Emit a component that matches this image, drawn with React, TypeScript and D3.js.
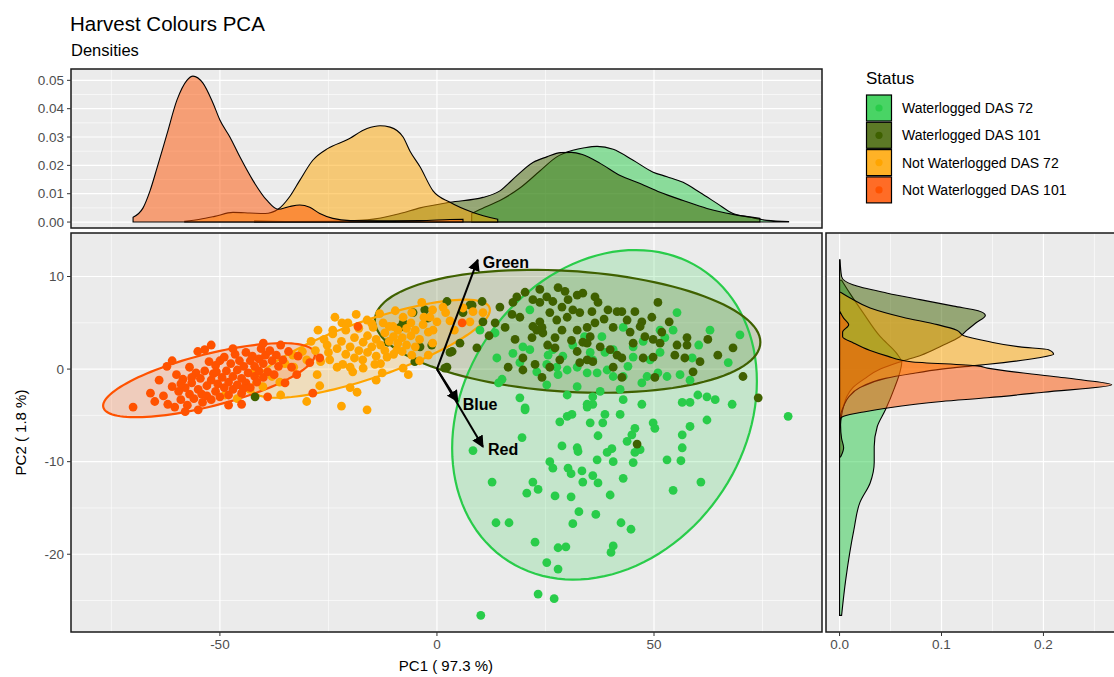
import React from "react";
import * as d3 from "d3";

// groups in factor order (draw order)
const groups = ["Waterlogged DAS 72", "Waterlogged DAS 101", "Not Waterlogged DAS 72", "Not Waterlogged DAS 101"];
const colors = ["#29cc4a", "#3f6100", "#ffa500", "#ff5200"];

// PCA scores (PC1, PC2)
const ptsWL72: number[][] = [
  [55.3, 6.1], [62.9, 4.2], [69.8, 3.7], [67.1, 0.7], [58.8, 1.2], [54.4, 4.2], [51.4, 4.2], [52.5, 3.4], [51.4, 1.8], [49.1, 1.0],
  [45.2, 2.4], [42.9, 4.5], [38.0, 3.5], [38.7, 1.8], [40.6, 2.1], [35.3, 1.8], [31.3, 2.6], [26.7, 2.1], [25.6, 1.5], [21.4, 2.1],
  [19.8, 2.4], [19.1, 0.7], [13.8, 1.2], [15.0, -1.1], [9.9, 4.2], [13.4, 3.9], [21.4, 6.4], [25.3, 0.5], [27.6, 0.2], [27.9, -0.6],
  [25.3, -1.7], [30.0, -0.1], [32.3, 0.2], [34.6, -0.4], [36.9, -0.4], [39.2, -0.1], [40.6, -0.8], [35.9, 1.0], [32.3, -1.9], [30.0, -2.8],
  [35.9, -3.0], [37.6, -2.4], [42.2, -2.2], [42.9, -0.8], [45.2, 1.3], [47.2, -1.5], [48.4, -0.8], [50.9, -0.4], [53.0, -0.8], [56.0, -0.6],
  [58.3, -1.2], [58.3, -3.6], [60.1, -2.8], [62.2, -3.0], [64.1, -3.3], [56.5, -3.6], [68.0, -3.8], [80.9, -5.1], [47.2, -3.8], [42.9, -3.3],
  [38.7, -4.9], [42.2, -4.9], [34.6, -3.8], [35.9, -3.8], [30.0, -5.1], [28.3, -5.7], [19.1, -3.1], [20.3, -4.2], [31.1, -4.9], [35.3, -5.8],
  [38.2, -5.8], [49.8, -5.8], [50.2, -6.4], [56.5, -7.1], [58.3, -6.2], [62.2, -5.5], [8.3, -8.8], [19.6, -7.4], [28.8, -8.3], [32.3, -8.5],
  [32.5, -8.9], [37.1, -7.2], [39.2, -9.0], [40.3, -8.6], [43.8, -7.8], [44.9, -7.1], [45.6, -6.4], [45.6, -9.0], [46.8, -8.7], [45.2, -10.1],
  [36.9, -9.8], [40.6, -10.0], [53.0, -9.8], [56.5, -8.5], [56.2, -9.9], [26.0, -10.0], [26.7, -10.7], [30.2, -10.7], [30.9, -11.3], [33.4, -11.0],
  [35.9, -11.5], [37.1, -12.3], [33.6, -12.2], [42.9, -11.8], [39.9, -13.6], [30.9, -13.8], [27.2, -13.7], [22.1, -12.2], [23.3, -13.0], [20.7, -13.4],
  [12.7, -12.2], [13.6, -16.6], [16.6, -16.6], [32.7, -15.4], [36.6, -15.7], [31.3, -16.7], [42.4, -16.6], [44.7, -17.3], [22.6, -18.7], [27.9, -19.3],
  [29.7, -19.2], [40.6, -19.1], [40.1, -19.8], [25.3, -20.9], [27.9, -21.6], [54.4, -13.1], [60.8, -12.2], [23.3, -24.3], [27.0, -24.8], [10.1, -26.6],
  [17.5, 1.7], [23.0, -0.3], [29.0, 1.4], [44.0, 0.3], [47.5, 3.0], [34.0, 3.5], [14.2, -1.5], [60.3, 2.6], [20.3, -4.4], [34.6, -4.1],
];

const ptsWL101: number[][] = [
  [20.3, 8.3], [18.4, 7.8], [17.5, 7.2], [14.5, 6.7], [13.4, 5.0], [15.7, 4.5], [17.3, 5.9], [19.1, 5.6], [22.1, 7.5], [23.7, 7.2],
  [25.3, 7.8], [27.9, 8.8], [26.7, 7.3], [28.8, 6.7], [30.2, 7.5], [32.3, 8.0], [33.6, 8.2], [36.4, 7.8], [37.1, 7.2], [35.7, 6.2],
  [32.9, 6.1], [31.3, 6.4], [30.0, 5.6], [27.6, 5.3], [26.0, 6.1], [23.7, 5.1], [23.0, 4.2], [24.4, 3.9], [27.2, 3.4], [28.8, 4.2],
  [32.3, 4.2], [34.6, 4.5], [36.4, 5.0], [35.3, 3.5], [33.6, 2.9], [37.6, 2.4], [39.9, 2.1], [41.5, 1.5], [42.6, 1.2], [40.6, 4.5],
  [39.4, 6.4], [41.5, 6.2], [42.6, 6.2], [43.8, 5.3], [45.6, 6.2], [47.2, 5.1], [49.5, 5.6], [46.8, 4.6], [50.9, 7.2], [47.9, 3.5],
  [49.8, 3.2], [51.8, 4.0], [51.4, 2.8], [45.2, 2.8], [47.5, 1.2], [49.8, 1.3], [55.3, 2.6], [57.6, 3.4], [57.6, 2.6], [57.1, 1.2],
  [54.8, 1.5], [60.6, 0.8], [59.0, -0.3], [62.4, 3.2], [64.7, 1.5], [68.2, 2.3], [70.5, -0.8], [74.0, -3.1], [42.6, -0.9], [50.2, -0.9],
  [40.6, 0.2], [34.6, 2.8], [35.9, 0.8], [32.3, 1.9], [28.3, 1.0], [26.0, 0.2], [24.2, -0.9], [22.6, 0.5], [19.8, 1.2], [19.8, -0.1],
  [16.4, 0.2], [18.0, 3.2], [21.9, 3.4], [22.1, 4.6], [24.2, 4.5], [27.2, 2.3], [34.6, 1.0], [32.9, 0.7], [10.4, 7.3], [7.6, 6.9],
  [6.0, 6.1], [5.3, 2.8], [3.0, 1.8], [9.2, 2.3], [2.3, 0.2], [10.6, 5.1], [-5.5, 6.1], [-7.8, 5.0], [-8.5, 4.5], [-11.3, 2.9],
  [-5.1, 0.8], [-3.9, 2.4], [-1.2, 2.6], [2.3, 7.3], [1.8, 0.1], [3.5, 1.9], [8.1, 6.9], [-41.9, -3.0], [-2.1, 5.5], [-2.8, 6.4],
  [-8.1, 4.6], [46.1, -8.1], [23.7, 8.6], [29.5, 8.4], [38.5, 5.4], [44.5, 4.0], [31.0, 3.1], [25.5, 2.6], [53.5, 5.1], [12.0, 3.6],
];

const ptsNWL72: number[][] = [
  [-27.4, 4.2], [-25.3, 2.6], [-24.0, 4.2], [-21.9, 5.0], [-20.5, 5.0], [-16.1, 5.3], [-14.7, 4.5], [-12.4, 5.0], [-10.1, 4.6], [-7.8, 5.6],
  [-5.8, 6.1], [-3.5, 7.2], [-1.6, 5.6], [1.4, 6.7], [-0.9, 4.2], [-3.2, 4.8], [-24.7, 1.0], [-21.7, 0.5], [-19.4, -0.3], [-17.1, 1.0],
  [-14.3, 0.5], [-11.5, 1.3], [-9.2, 2.1], [-7.8, 0.1], [-5.8, 1.5], [-36.2, -1.4], [-33.2, 1.5], [-30.0, 1.0], [-27.6, -0.6], [-18.4, -2.5],
  [-30.0, -3.5], [-16.1, -4.4], [-43.1, -2.2], [-40.1, -1.9], [6.0, 6.6], [8.3, 6.2], [10.6, 6.1], [7.6, 5.1], [-42.4, -0.4], [-48.8, -2.8],
  [-46.0, -3.2], [-26.0, 3.2], [-25.0, 1.8], [-24.0, 3.8], [-23.0, 2.2], [-23.0, 0.2], [-22.0, 3.0], [-21.0, 1.6], [-21.0, 4.2], [-20.0, 2.4],
  [-20.0, 0.2], [-19.0, 3.4], [-19.0, 1.2], [-18.0, 2.0], [-18.0, 4.4], [-17.0, 2.9], [-17.0, 0.1], [-16.0, 1.8], [-16.0, 3.6], [-15.0, 2.4],
  [-15.0, 4.9], [-14.0, 1.4], [-14.0, 3.2], [-13.0, 2.6], [-13.0, 0.6], [-12.0, 3.9], [-12.0, 2.0], [-11.0, 3.0], [-11.0, 4.6], [-10.0, 1.6],
  [-10.0, 3.5], [-9.0, 2.8], [-9.0, 4.2], [-8.0, 3.4], [-8.0, 1.9], [-7.0, 4.4], [-7.0, 2.6], [-6.0, 3.6], [-6.0, 5.0], [-5.0, 2.4],
  [-5.0, 4.2], [-4.0, 3.2], [-3.0, 5.6], [-2.0, 4.0], [-1.0, 2.8], [0.0, 5.1], [-28.0, 2.0], [-29.0, 3.0], [-31.0, 1.9], [-33.0, 0.2],
  [-35.0, 0.6], [-38.0, -0.8], [-27.0, -1.8], [-36.0, -2.8], [-20.0, -2.0], [-14.0, -1.2], [-22.0, -4.0], [-4.0, 0.9], [-2.0, 1.5], [3.0, 5.2],
  [4.0, 4.2], [-1.0, 6.4], [2.0, 6.1], [-23.5, 5.6], [-18.6, 5.9], [-13.2, 6.0], [-9.6, 6.3], [-26.8, 0.8], [-12.6, -0.4], [-6.6, -0.6],
];

const ptsNWL101: number[][] = [
  [-70.0, -4.1], [-66.0, -2.6], [-65.0, -3.5], [-64.0, -1.2], [-63.0, -2.9], [-62.2, 0.3], [-62.0, -3.8], [-61.0, -1.9], [-60.4, -4.1], [-60.0, -0.6],
  [-59.5, -2.4], [-59.0, -3.3], [-58.5, -1.1], [-58.0, -2.0], [-57.5, -3.9], [-57.0, 0.2], [-57.0, -2.7], [-56.5, -1.5], [-56.0, -3.2], [-55.5, -0.4],
  [-55.1, 1.9], [-55.0, -2.2], [-54.5, -1.0], [-54.0, -3.6], [-53.5, 2.1], [-53.5, -0.2], [-53.0, -1.8], [-53.0, -2.9], [-52.5, 0.8], [-52.0, -1.2],
  [-52.0, -3.3], [-51.5, -0.5], [-51.0, -2.4], [-51.0, 0.4], [-50.5, -1.6], [-50.0, -3.0], [-50.0, 0.9], [-49.5, -0.9], [-49.0, -2.0], [-49.0, 1.3],
  [-48.5, -0.2], [-48.0, -1.4], [-48.0, -2.8], [-47.5, 0.6], [-47.0, -0.8], [-47.0, -2.2], [-46.5, 1.6], [-46.0, -0.1], [-46.0, -1.7], [-45.5, 0.9],
  [-45.0, -1.0], [-45.0, -2.6], [-44.5, 0.3], [-44.0, 1.8], [-44.0, -1.5], [-43.5, -0.4], [-43.0, 0.9], [-43.0, -2.0], [-42.5, 1.4], [-42.0, -0.8],
  [-42.0, 0.3], [-41.5, -1.4], [-41.0, 1.1], [-41.0, -0.2], [-40.5, 2.2], [-40.0, 0.6], [-40.0, -0.9], [-39.5, 1.5], [-39.0, -0.3], [-38.5, 2.0],
  [-38.0, 0.9], [-37.5, -0.6], [-37.0, 1.5], [-36.5, 0.3], [-36.0, 2.6], [-35.5, 1.0], [-45.0, -3.8], [-55.0, -4.4], [-58.0, -4.6], [-48.0, -3.9],
  [-61.0, 0.9], [-52.0, 2.6], [-47.0, 2.2], [-39.0, -3.0], [-35.0, -1.5], [-32.0, 1.4], [-29.3, 0.7], [-27.0, 1.2], [-32.3, -0.6], [-28.6, -2.6],
  [-18.2, 4.6], [5.8, 5.0], [-33.5, 0.2], [-40.0, 2.8], [-34.2, 1.9], [-56.5, -0.9], [-59.0, -1.6], [-44.6, -2.1], [-50.8, -0.3], [-54.2, -2.7],
];

const points = [ptsWL72, ptsWL101, ptsNWL72, ptsNWL101];

// normal-confidence ellipses: centre, half-extents and correlation (data units)
const ellCx = [38.6, 30.1, -15.2, -52.5];
const ellCy = [-4.94, 4.08, 2.2, -1.2];
const ellSx = [35.1, 44.4, 27.4, 24.4];
const ellSy = [17.8, 6.64, 5.3, 4.0];
const ellR = [0.203, -0.177, 0.79, 0.69];

// marginal densities of PC1: [PC1, density]
const topWL72: number[][] = [
  [8, 0.003], [11, 0.0052], [14.5, 0.0076], [19.1, 0.012], [23.7, 0.018], [27.6, 0.023], [31.3, 0.0253], [34, 0.0262], [36.9, 0.0267],
  [40.6, 0.0257], [45.2, 0.0218], [49.8, 0.0176], [53.0, 0.016], [56.7, 0.014], [60.6, 0.0104], [64.5, 0.0066], [68.2, 0.003],
  [72.1, 0.0017], [76, 0.0006], [81, 0.0002],
];
const topWL101: number[][] = [
  [-42, 0.0004], [-35, 0.0002], [-25, 0.0003], [-16, 0.0008], [-8.5, 0.003], [-3.9, 0.005], [3.0, 0.007], [10.6, 0.0087],
  [14.5, 0.011], [18.4, 0.0164], [22.1, 0.021], [25.3, 0.023], [28.5, 0.0245], [31, 0.0246], [33.5, 0.0238], [37.6, 0.0207],
  [42.2, 0.0164], [46.8, 0.0136], [51.4, 0.0105], [56.7, 0.0076], [62.2, 0.0048], [68.2, 0.0027], [74.4, 0.0013],
];
const topNWL72: number[][] = [
  [-58.1, 0.0003], [-54.6, 0.001], [-51.2, 0.002], [-47.0, 0.0034], [-43.1, 0.0032], [-39.6, 0.003], [-36.6, 0.0045],
  [-33.9, 0.009], [-31.6, 0.0147], [-28.6, 0.0218], [-25.1, 0.026], [-20.7, 0.029], [-16.1, 0.033], [-13.1, 0.034],
  [-10.8, 0.0335], [-7.8, 0.030], [-6.2, 0.025], [-3.9, 0.0195], [-0.9, 0.011], [3.0, 0.007], [8.3, 0.0034], [14, 0.001],
];
const topNWL101: number[][] = [
  [-70.0, 0.0017], [-67.7, 0.005], [-66.1, 0.011], [-64.5, 0.019], [-62.2, 0.031], [-59.9, 0.043], [-57.6, 0.050], [-56.2, 0.0515],
  [-53.9, 0.049], [-51.6, 0.042], [-50.0, 0.036], [-47.7, 0.030], [-45.4, 0.023], [-42.4, 0.0147], [-39.2, 0.0077], [-36.6, 0.0045],
  [-33.9, 0.0055], [-31.6, 0.006], [-29.3, 0.0052], [-27.0, 0.003], [-24.0, 0.0013], [-20.0, 0.0005], [-13.1, 0.0004], [-3.9, 0.0005],
  [3.0, 0.0009], [6.0, 0.001],
];
const topDens = [topWL72, topWL101, topNWL72, topNWL101];

// marginal densities of PC2: [PC2, density]
const sideWL72: number[][] = [
  [-26.6, 0.002], [-22.8, 0.006], [-17.4, 0.014], [-14.4, 0.02], [-12.3, 0.03], [-10.1, 0.034], [-8.4, 0.034], [-6.2, 0.037],
  [-4.4, 0.045], [-2, 0.054], [-0.4, 0.059], [0.7, 0.061], [1.7, 0.056], [3.5, 0.04], [6.1, 0.023], [8.2, 0.01], [9.6, 0.002],
];
const sideWL101: number[][] = [
  [-9.5, 0.001], [-8.5, 0.004], [-7.5, 0.002], [-6, 0.001], [-5, 0.002], [-4, 0.004], [-3, 0.007], [-2, 0.013], [-1, 0.025],
  [0, 0.04], [0.8, 0.06], [1.5, 0.08], [2.5, 0.1], [3.5, 0.118], [4.2, 0.125], [5.0, 0.134], [5.8, 0.143], [6.3, 0.136],
  [6.8, 0.112], [7.5, 0.079], [8.2, 0.047], [9.1, 0.013], [10, 0.002], [11.8, 0.0005],
];
const sideNWL72: number[][] = [
  [-6, 0.0005], [-5, 0.001], [-4, 0.004], [-3, 0.009], [-2, 0.02], [-1, 0.045], [-0.5, 0.07], [0, 0.1], [0.4, 0.135],
  [0.7, 0.161], [1.2, 0.194], [1.6, 0.21], [2.1, 0.205], [2.4, 0.177], [3.0, 0.145], [3.6, 0.122], [4.2, 0.115], [4.8, 0.096],
  [5.6, 0.062], [6.6, 0.03], [7.7, 0.01], [8.3, 0.001],
];
const sideNWL101: number[][] = [
  [-5.3, 0.001], [-5.1, 0.004], [-4.6, 0.025], [-4.2, 0.047], [-3.5, 0.1], [-3.1, 0.145], [-2.5, 0.2], [-1.7, 0.267],
  [-1.2, 0.24], [-0.8, 0.21], [0.1, 0.145], [0.35, 0.135], [0.8, 0.07], [1.4, 0.047], [2, 0.03], [2.8, 0.014], [3.5, 0.003],
  [4.0, 0.003], [4.8, 0.009], [5.5, 0.004], [6.2, 0.0005],
];
const sideDens = [sideWL72, sideWL101, sideNWL72, sideNWL101];

// variable loadings (arrows)
const loadNames = ["Green", "Blue", "Red"];
const loadX = [9.4, 4.8, 10.6];
const loadY = [11.8, -3.5, -8.4];

const xBreaks = [-50, 0, 50];
const xMinor = [-75, -25, 25, 75];
const yBreaks = [-20, -10, 0, 10];
const yMinor = [-25, -15, -5, 5];
const topBreaks = [0, 0.01, 0.02, 0.03, 0.04, 0.05];
const topMinor = [0.005, 0.015, 0.025, 0.035, 0.045];
const sideBreaks = [0, 0.1, 0.2];
const sideMinor = [0.05, 0.15, 0.25];

const FONT = "'Liberation Sans', Arial, sans-serif";

const main = { l: 71, r: 822, t: 233, b: 632 };
const topP = { l: 71, r: 822, t: 69, b: 228 };
const side = { l: 826, r: 1130, t: 233, b: 632 };

const x = d3.scaleLinear().domain([-84.3, 88.7]).range([main.l, main.r]);
const y = d3.scaleLinear().domain([-28.4, 14.7]).range([main.b, main.t]);
const yTop = d3.scaleLinear().domain([-0.0021, 0.054]).range([topP.b, topP.t]);
const xSide = d3.scaleLinear().domain([-0.0133, 0.28]).range([side.l, side.l + 299]);

function ellipsePath(i: number) {
  const n = 120;
  const pts: [number, number][] = d3.range(n).map((k) => {
    const t = (k / n) * Math.PI * 2;
    const dx = ellSx[i] * Math.cos(t);
    const dy = ellSy[i] * (ellR[i] * Math.cos(t) + Math.sqrt(1 - ellR[i] * ellR[i]) * Math.sin(t));
    return [x(ellCx[i] + dx), y(ellCy[i] + dy)];
  });
  return d3.line().curve(d3.curveLinearClosed)(pts) || "";
}

const topArea = d3.area<number[]>()
  .x((d) => x(d[0]))
  .y0(yTop(0))
  .y1((d) => yTop(d[1]))
  .curve(d3.curveMonotoneX);

const sideArea = d3.area<number[]>()
  .y((d) => y(d[0]))
  .x0(xSide(0))
  .x1((d) => xSide(d[1]))
  .curve(d3.curveMonotoneY);

const gridMajor = { stroke: "#ffffff", strokeWidth: 1.2 };
const gridMinor = { stroke: "#ffffff", strokeWidth: 0.6 };
const tickCol = "#4d4d4d";

export default function App() {
  return (
    <svg width={1114} height={677} style={{ position: "absolute", left: 0, top: 0, background: "#fff" }} fontFamily={FONT}>
      <defs>
        <clipPath id="clipMain"><rect x={main.l} y={main.t} width={main.r - main.l} height={main.b - main.t} /></clipPath>
        <clipPath id="clipTop"><rect x={topP.l} y={topP.t} width={topP.r - topP.l} height={topP.b - topP.t} /></clipPath>
        <clipPath id="clipSide"><rect x={side.l} y={side.t} width={side.r - side.l} height={side.b - side.t} /></clipPath>
        <marker id="arrow" viewBox="0 0 10 10" refX="9" refY="5" markerWidth="6" markerHeight="6" orient="auto" markerUnits="strokeWidth">
          <path d="M0,0 L10,5 L0,10 Z" fill="#000" />
        </marker>
      </defs>

      {/* titles */}
      <text x={70} y={31} fontSize={20.5} fill="#000">Harvest Colours PCA</text>
      <text x={71} y={56} fontSize={16.5} fill="#000">Densities</text>

      {/* ---------- top density panel ---------- */}
      <rect x={topP.l} y={topP.t} width={topP.r - topP.l} height={topP.b - topP.t} fill="#ebebeb" />
      {topMinor.map((v) => <line key={"tm" + v} x1={topP.l} x2={topP.r} y1={yTop(v)} y2={yTop(v)} {...gridMinor} />)}
      {xMinor.map((v) => <line key={"txm" + v} x1={x(v)} x2={x(v)} y1={topP.t} y2={topP.b} {...gridMinor} />)}
      {topBreaks.map((v) => <line key={"tb" + v} x1={topP.l} x2={topP.r} y1={yTop(v)} y2={yTop(v)} {...gridMajor} />)}
      {xBreaks.map((v) => <line key={"txb" + v} x1={x(v)} x2={x(v)} y1={topP.t} y2={topP.b} {...gridMajor} />)}
      <g clipPath="url(#clipTop)">
        {topDens.map((d, i) => (
          <path key={"td" + i} d={topArea(d) || ""} fill={colors[i]} fillOpacity={0.5} stroke="#000" strokeWidth={1.1} />
        ))}
      </g>
      <rect x={topP.l} y={topP.t} width={topP.r - topP.l} height={topP.b - topP.t} fill="none" stroke="#1a1a1a" strokeWidth={1.5} />
      {topBreaks.map((v) => (
        <g key={"tt" + v}>
          <line x1={topP.l - 4} x2={topP.l} y1={yTop(v)} y2={yTop(v)} stroke="#333" />
          <text x={topP.l - 7} y={yTop(v)} dy="0.35em" textAnchor="end" fontSize={13.5} fill={tickCol}>{v.toFixed(2)}</text>
        </g>
      ))}

      {/* ---------- main PCA panel ---------- */}
      <rect x={main.l} y={main.t} width={main.r - main.l} height={main.b - main.t} fill="#ebebeb" />
      {yMinor.map((v) => <line key={"ym" + v} x1={main.l} x2={main.r} y1={y(v)} y2={y(v)} {...gridMinor} />)}
      {xMinor.map((v) => <line key={"xm" + v} x1={x(v)} x2={x(v)} y1={main.t} y2={main.b} {...gridMinor} />)}
      {yBreaks.map((v) => <line key={"yb" + v} x1={main.l} x2={main.r} y1={y(v)} y2={y(v)} {...gridMajor} />)}
      {xBreaks.map((v) => <line key={"xb" + v} x1={x(v)} x2={x(v)} y1={main.t} y2={main.b} {...gridMajor} />)}
      <g clipPath="url(#clipMain)">
        {groups.map((g, i) => (
          <path key={"ef" + g} d={ellipsePath(i)} fill={colors[i]} fillOpacity={0.2} stroke="none" />
        ))}
        {groups.map((g, i) => (
          <path key={"el" + g} d={ellipsePath(i)} fill="none" stroke={colors[i]} strokeWidth={2.2} />
        ))}
        {points.map((pts, i) =>
          pts.map((p, k) => <circle key={"p" + i + "-" + k} cx={x(p[0])} cy={y(p[1])} r={4.4} fill={colors[i]} />)
        )}
        {loadNames.map((n, i) => (
          <g key={"ld" + n}>
            <line x1={x(0)} y1={y(0)} x2={x(loadX[i])} y2={y(loadY[i])} stroke="#000" strokeWidth={2} markerEnd="url(#arrow)" />
            <text x={x(loadX[i]) + 5} y={y(loadY[i]) + 3} dy="0.35em" fontSize={16} fontWeight="bold" fill="#000">{n}</text>
          </g>
        ))}
      </g>
      <rect x={main.l} y={main.t} width={main.r - main.l} height={main.b - main.t} fill="none" stroke="#1a1a1a" strokeWidth={1.5} />
      {yBreaks.map((v) => (
        <g key={"yt" + v}>
          <line x1={main.l - 4} x2={main.l} y1={y(v)} y2={y(v)} stroke="#333" />
          <text x={main.l - 7} y={y(v)} dy="0.35em" textAnchor="end" fontSize={13.5} fill={tickCol}>{v}</text>
        </g>
      ))}
      {xBreaks.map((v) => (
        <g key={"xt" + v}>
          <line x1={x(v)} x2={x(v)} y1={main.b} y2={main.b + 4} stroke="#333" />
          <text x={x(v)} y={main.b + 17} textAnchor="middle" fontSize={13.5} fill={tickCol}>{v}</text>
        </g>
      ))}
      <text x={x(0) + 9} y={671} textAnchor="middle" fontSize={15} fill="#000">PC1 ( 97.3 %)</text>
      <text transform={`translate(26,${(main.t + main.b) / 2}) rotate(-90)`} textAnchor="middle" fontSize={15} fill="#000">PC2 ( 1.8 %)</text>

      {/* ---------- right density panel ---------- */}
      <rect x={side.l} y={side.t} width={side.r - side.l} height={side.b - side.t} fill="#ebebeb" />
      {yMinor.map((v) => <line key={"sym" + v} x1={side.l} x2={side.r} y1={y(v)} y2={y(v)} {...gridMinor} />)}
      {sideMinor.map((v) => <line key={"sxm" + v} x1={xSide(v)} x2={xSide(v)} y1={side.t} y2={side.b} {...gridMinor} />)}
      {yBreaks.map((v) => <line key={"syb" + v} x1={side.l} x2={side.r} y1={y(v)} y2={y(v)} {...gridMajor} />)}
      {sideBreaks.map((v) => <line key={"sxb" + v} x1={xSide(v)} x2={xSide(v)} y1={side.t} y2={side.b} {...gridMajor} />)}
      <g clipPath="url(#clipSide)">
        {sideDens.map((d, i) => (
          <path key={"sd" + i} d={sideArea(d) || ""} fill={colors[i]} fillOpacity={0.5} stroke="#000" strokeWidth={1.1} />
        ))}
      </g>
      <rect x={side.l} y={side.t} width={side.r - side.l} height={side.b - side.t} fill="none" stroke="#1a1a1a" strokeWidth={1.5} />
      {sideBreaks.map((v) => (
        <g key={"st" + v}>
          <line x1={xSide(v)} x2={xSide(v)} y1={side.b} y2={side.b + 4} stroke="#333" />
          <text x={xSide(v)} y={side.b + 17} textAnchor="middle" fontSize={13.5} fill={tickCol}>{v.toFixed(1)}</text>
        </g>
      ))}

      {/* ---------- legend ---------- */}
      <text x={866} y={84} fontSize={17} fill="#000">Status</text>
      {groups.map((g, i) => {
        const ky = 95 + i * 27.3;
        return (
          <g key={"lg" + g}>
            <rect x={866.5} y={ky} width={25} height={26} fill={colors[i]} fillOpacity={0.85} stroke="#000" strokeWidth={1.2} />
            <circle cx={879} cy={ky + 13} r={3.6} fill={colors[i]} />
            <text x={902} y={ky + 13} dy="0.35em" fontSize={14} fill="#000">{g}</text>
          </g>
        );
      })}
    </svg>
  );
}
